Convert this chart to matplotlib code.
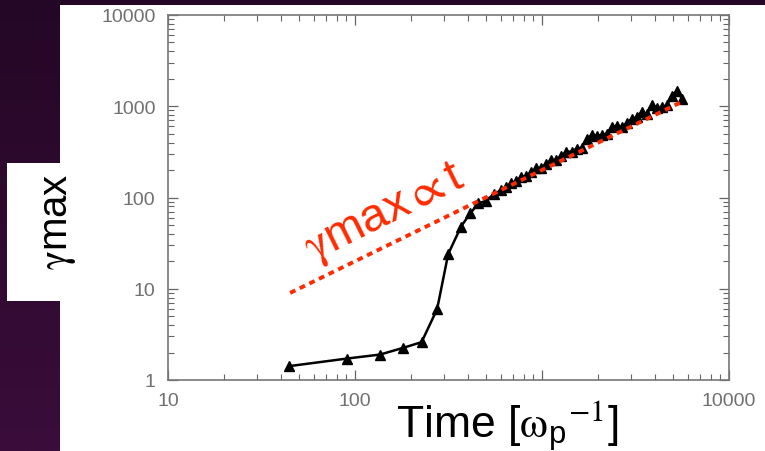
import numpy as np
import matplotlib
matplotlib.use("Agg")
import matplotlib.pyplot as plt
from matplotlib.patches import Rectangle
from matplotlib.ticker import LogLocator, NullFormatter

plt.rcParams["font.family"] = ["Liberation Sans", "DejaVu Sans"]
plt.rcParams["mathtext.fontset"] = "custom"
plt.rcParams["mathtext.rm"] = "STIXGeneral"
plt.rcParams["mathtext.it"] = "STIXGeneral:italic"
plt.rcParams["mathtext.sf"] = "Liberation Sans"
plt.rcParams["mathtext.fallback"] = "stix"

# gamma_max versus time
time = [44.6, 91, 136, 181, 227, 275, 315, 369, 413, 457, 499, 551,
        605, 644, 685, 729, 775, 824, 877, 933, 993, 1056, 1123, 1195,
        1271, 1352, 1438, 1530, 1627, 1731, 1841, 1959, 2084, 2217, 2358,
        2508, 2668, 2839, 3020, 3212, 3417, 3635, 3867, 4114, 4376, 4655,
        4952, 5268, 5604]
gamma_max = [1.42, 1.72, 1.90, 2.25, 2.6, 6.0, 24, 48, 67, 86, 92, 108,
             121, 131, 144, 150, 167, 173, 189, 209, 211, 232, 258, 258,
             285, 319, 316, 343, 351, 433, 479, 478, 479, 497, 590,
             612, 598, 653, 725, 758, 875, 814, 1044, 946, 980, 1024,
             1307, 1475, 1210]

# linear fit gamma_max ~ 0.2 t
fit_time = [45, 5700]
fit_gamma = [9.0, 1140]

x_ticks = [10, 100, 1000, 10000]
x_labels = ["10", "100", "", "10000"]
y_ticks = [1, 10, 100, 1000, 10000]
y_labels = ["1", "10", "100", "1000", "10000"]

W, H = 765, 452
fig = plt.figure(figsize=(W / 100, H / 100), dpi=100)

# purple slide background with a soft vertical gradient
bg = fig.add_axes([0, 0, 1, 1], zorder=-10)
grad = np.linspace(0, 1, 256).reshape(-1, 1)
bg.imshow(grad, aspect="auto", cmap=matplotlib.colors.LinearSegmentedColormap.from_list(
    "slide", ["#240726", "#3a0d3a"]), extent=[0, 1, 0, 1])
bg.set_axis_off()
fig.patches.append(Rectangle((60 / W, 0), 1, (H - 6) / H, transform=fig.transFigure,
                             facecolor="white", edgecolor="none", zorder=-5))
fig.patches.append(Rectangle((7 / W, (H - 302) / H), 63 / W, 138 / H,
                             transform=fig.transFigure, facecolor="white",
                             edgecolor="none", zorder=-4))

ax = fig.add_axes([168 / W, (H - 381) / H, 561 / W, 365 / H])
ax.set_facecolor("none")
ax.set_xscale("log")
ax.set_yscale("log")
ax.set_xlim(10, 10000)
ax.set_ylim(1, 10000)

ax.plot(time, gamma_max, color="black", lw=1.8, marker="^", markersize=7.5,
        markeredgecolor="black", zorder=3)
ax.plot(fit_time, fit_gamma, color="#ff2a00", lw=2.8, linestyle=(0, (1.5, 1.25)),
        zorder=4)

fig.text(385 / W, (H - 214) / H, r"$\mathrm{\gamma}$max$\mathrm{\propto}$t", color="#ff2a00",
         fontsize=34, rotation=26.5, ha="center", va="center", rotation_mode="anchor")

ax.set_xticks(x_ticks, x_labels)
ax.set_yticks(y_ticks, y_labels)
ax.xaxis.set_minor_locator(LogLocator(base=10, subs=np.arange(2, 10)))
ax.yaxis.set_minor_locator(LogLocator(base=10, subs=np.arange(2, 10)))
ax.xaxis.set_minor_formatter(NullFormatter())
ax.yaxis.set_minor_formatter(NullFormatter())
ax.tick_params(which="both", direction="in", top=True, right=True, color="#666666",
               labelcolor="#707070", labelsize=14)
ax.tick_params(which="major", length=7.5, width=0.9, pad=9)
ax.tick_params(which="minor", length=4, width=0.8)
for s in ax.spines.values():
    s.set_color("#777777")
    s.set_linewidth(1.2)

fig.text(59 / W, (H - 222) / H, r"$\mathrm{\gamma}$max", rotation=90, fontsize=29,
         ha="center", va="center", color="black")
fig.text(507 / W, (H - 438) / H, r"Time [$\mathrm{\omega}_\mathsf{p}{}^{-1}$]", fontsize=32,
         ha="center", va="baseline", color="black")

fig.savefig("out.png", dpi=100, facecolor=fig.get_facecolor())
